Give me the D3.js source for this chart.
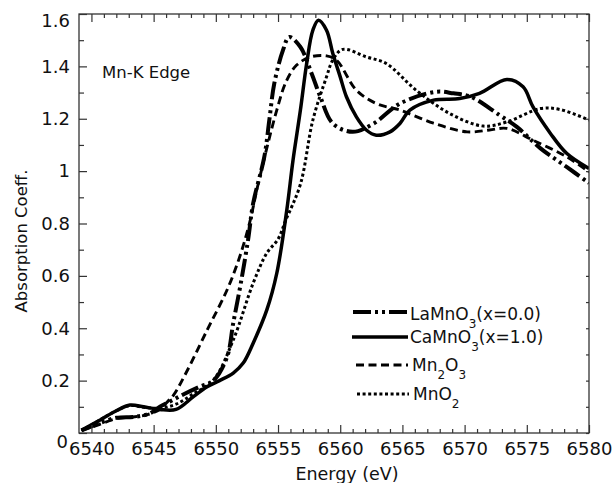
<!DOCTYPE html>
<html>
<head>
<meta charset="utf-8">
<script src="https://cdn.jsdelivr.net/npm/d3@7/dist/d3.min.js"></script>
<style>
  html, body { margin: 0; padding: 0; background: #fff; }
  svg { display: block; }
  text { font-family: "DejaVu Sans", sans-serif; fill: #111; }
</style>
</head>
<body>
<svg id="chart" width="613" height="483"></svg>
<script>
// ---- data ----
const xTicks = [6540, 6545, 6550, 6555, 6560, 6565, 6570, 6575, 6580];
const yTicks = [0, 0.2, 0.4, 0.6, 0.8, 1, 1.2, 1.4, 1.6];
const yTickLabels = ["0", "0.2", "0.4", "0.6", "0.8", "1", "1.2", "1.4", "1.6"];

const laE = [6539.2, 6540.5, 6542, 6543.5, 6544.7, 6545.5, 6546.5, 6547.5, 6548.7, 6549.8, 6550.9, 6551.4, 6552.0, 6552.6, 6553.0, 6553.9, 6554.3, 6554.7, 6555.4, 6555.9, 6556.8, 6557.7, 6558.4, 6559.4, 6561.0, 6562.7, 6564.8, 6567.7, 6569.1, 6570.5, 6572.8, 6574.2, 6576.1, 6578.2, 6580];
const laV = [0.01, 0.035, 0.058, 0.062, 0.075, 0.10, 0.125, 0.15, 0.177, 0.20, 0.29, 0.42, 0.57, 0.74, 0.877, 1.055, 1.195, 1.335, 1.462, 1.512, 1.474, 1.373, 1.284, 1.182, 1.15, 1.182, 1.258, 1.303, 1.297, 1.284, 1.214, 1.169, 1.087, 1.016, 0.955];

const caE = [6539.2, 6540.7, 6542.0, 6543.1, 6544.2, 6545.5, 6546.8, 6548.2, 6549.3, 6550.3, 6551.4, 6552.2, 6553.0, 6554.1, 6554.9, 6555.7, 6556.2, 6556.8, 6557.3, 6557.8, 6558.25, 6558.9, 6559.4, 6560.0, 6560.5, 6561.3, 6562.1, 6562.9, 6564.0, 6564.8, 6565.6, 6567.5, 6569.6, 6571.2, 6573.4, 6574.7, 6575.5, 6576.9, 6578.2, 6580];
const caV = [0.01, 0.05, 0.085, 0.107, 0.10, 0.09, 0.09, 0.139, 0.177, 0.20, 0.229, 0.267, 0.343, 0.47, 0.61, 0.85, 1.04, 1.233, 1.41, 1.538, 1.576, 1.538, 1.45, 1.36, 1.284, 1.207, 1.157, 1.137, 1.15, 1.182, 1.233, 1.271, 1.277, 1.297, 1.35, 1.322, 1.245, 1.144, 1.068, 1.01];

const mn2E = [6539.2, 6540.5, 6542, 6543.5, 6544.5, 6545.5, 6546.0, 6546.6, 6547.6, 6549.3, 6550.9, 6551.9, 6552.7, 6553.4, 6554.9, 6555.7, 6556.5, 6557.6, 6558.9, 6559.7, 6561.3, 6562.9, 6564.8, 6567.5, 6570.2, 6572.0, 6573.4, 6575.5, 6578.2, 6580];
const mn2V = [0.01, 0.03, 0.055, 0.062, 0.07, 0.09, 0.114, 0.145, 0.229, 0.393, 0.546, 0.67, 0.80, 0.95, 1.233, 1.347, 1.405, 1.436, 1.44, 1.424, 1.309, 1.258, 1.233, 1.183, 1.15, 1.157, 1.163, 1.118, 1.055, 0.997];

const mno2E = [6539.2, 6540.7, 6542, 6543.1, 6544.2, 6545.5, 6546.8, 6548.2, 6549.8, 6551.4, 6553.0, 6554.1, 6555.0, 6555.6, 6556.8, 6557.8, 6558.9, 6559.4, 6560.2, 6562.1, 6563.7, 6566.1, 6568.8, 6571.5, 6573.4, 6576.1, 6577.7, 6580];
const mno2V = [0.01, 0.05, 0.085, 0.105, 0.098, 0.095, 0.11, 0.15, 0.202, 0.355, 0.572, 0.687, 0.74, 0.81, 0.95, 1.195, 1.36, 1.424, 1.465, 1.436, 1.411, 1.309, 1.22, 1.172, 1.188, 1.239, 1.235, 1.195];

const seriesNames = ["LaMnO3(x=0.0)", "CaMnO3(x=1.0)", "Mn2O3", "MnO2"];

// ---- chart ----
const svg = d3.select("#chart");
const x = d3.scaleLinear().domain([6539, 6580]).range([79, 589]);
const y = d3.scaleLinear().domain([0, 1.6]).range([433, 14]);

const styles = [
  { w: 4, dash: "18,4,3,4,3,4" },
  { w: 3.5, dash: null },
  { w: 2.9, dash: "8,4.5" },
  { w: 3, dash: "3,2.6" }
];
const series = [
  { name: seriesNames[0], E: laE, V: laV },
  { name: seriesNames[1], E: caE, V: caV },
  { name: seriesNames[2], E: mn2E, V: mn2V },
  { name: seriesNames[3], E: mno2E, V: mno2V }
];

const line = d3.line()
  .x(d => x(d[0])).y(d => y(d[1]))
  .curve(d3.curveCatmullRom.alpha(0.5));

svg.append("clipPath").attr("id", "clip")
  .append("rect").attr("x", 79).attr("y", 14).attr("width", 510).attr("height", 419);

const gLines = svg.append("g").attr("clip-path", "url(#clip)");
series.forEach((s, i) => {
  gLines.append("path")
    .datum(s.E.map((e, k) => [e, s.V[k]]))
    .attr("d", line)
    .attr("fill", "none")
    .attr("stroke", "#000")
    .attr("stroke-width", styles[i].w)
    .attr("stroke-linejoin", "round")
    .attr("stroke-dasharray", styles[i].dash);
});

// frame
svg.append("rect").attr("x", 79).attr("y", 14).attr("width", 510).attr("height", 419)
  .attr("fill", "none").attr("stroke", "#333").attr("stroke-width", 1.3);

const xMinor = d3.range(6540, 6581, 1).filter(v => v % 5 !== 0);
const yMinor = d3.range(1, 16, 2).map(v => v / 10);

function styleAxis(g) {
  g.select(".domain").remove();
  g.selectAll("line").attr("stroke", "#333").attr("stroke-width", 1.2);
  g.selectAll("text").style("font-family", "DejaVu Sans, sans-serif").attr("fill", "#111");
}

// bottom
svg.append("g").attr("transform", "translate(0,433)")
  .call(d3.axisBottom(x).tickValues(xTicks).tickFormat(d3.format("d")).tickSizeInner(-8).tickSizeOuter(0).tickPadding(9))
  .call(styleAxis)
  .call(g => g.selectAll("text").style("font-size", "18px"));
svg.append("g").attr("transform", "translate(0,433)")
  .call(d3.axisBottom(x).tickValues(xMinor).tickFormat("").tickSizeInner(-4).tickSizeOuter(0))
  .call(styleAxis);
// top
svg.append("g").attr("transform", "translate(0,14)")
  .call(d3.axisTop(x).tickValues(xTicks).tickFormat("").tickSizeInner(-8).tickSizeOuter(0))
  .call(styleAxis);
svg.append("g").attr("transform", "translate(0,14)")
  .call(d3.axisTop(x).tickValues(xMinor).tickFormat("").tickSizeInner(-4).tickSizeOuter(0))
  .call(styleAxis);
// left
svg.append("g").attr("transform", "translate(79,0)")
  .call(d3.axisLeft(y).tickValues(yTicks).tickFormat((d, i) => yTickLabels[i]).tickSizeInner(-8).tickSizeOuter(0).tickPadding(9))
  .call(styleAxis)
  .call(g => {
    g.selectAll("text").style("font-size", "18px");
    g.selectAll(".tick").filter(d => d === 1.6).select("text").attr("dy", "0.68em");
    g.selectAll(".tick").filter(d => d === 0).select("text").attr("dy", "0.78em").attr("x", -11);
  });
svg.append("g").attr("transform", "translate(79,0)")
  .call(d3.axisLeft(y).tickValues(yMinor).tickFormat("").tickSizeInner(-5).tickSizeOuter(0))
  .call(styleAxis);
// right
svg.append("g").attr("transform", "translate(589,0)")
  .call(d3.axisRight(y).tickValues(yTicks.concat(yMinor)).tickFormat("").tickSizeInner(-3).tickSizeOuter(0))
  .call(styleAxis);

// axis titles
svg.append("text").attr("x", 347).attr("y", 480).attr("text-anchor", "middle")
  .style("font-size", "17.5px").text("Energy (eV)");
svg.append("text").attr("transform", "translate(27,241) rotate(-90)").attr("text-anchor", "middle")
  .style("font-size", "16.5px").text("Absorption Coeff.");

// annotation
svg.append("text").attr("x", 102).attr("y", 78).style("font-size", "16.5px").text("Mn-K Edge");

// legend
const legendRows = [
  { x1: 353, x2: 408, ly: 312, tx: 410, ty: 320, parts: [["LaMnO", 0], ["3", 1], ["(x=0.0)", 0]] },
  { x1: 352, x2: 408, ly: 337, tx: 410, ty: 343, parts: [["CaMnO", 0], ["3", 1], ["(x=1.0)", 0]] },
  { x1: 356, x2: 408, ly: 365, tx: 412, ty: 371, parts: [["Mn", 0], ["2", 1], ["O", 0], ["3", 1]] },
  { x1: 357, x2: 409, ly: 394, tx: 413, ty: 400, parts: [["MnO", 0], ["2", 1]] }
];
const gLeg = svg.append("g");
legendRows.forEach((r, i) => {
  gLeg.append("line").attr("x1", r.x1).attr("x2", r.x2).attr("y1", r.ly).attr("y2", r.ly)
    .attr("stroke", "#000").attr("stroke-width", styles[i].w)
    .attr("stroke-dasharray", styles[i].dash);
  const t = gLeg.append("text").attr("x", r.tx).attr("y", r.ty).style("font-size", "17px");
  let low = false;
  r.parts.forEach(([s, sub]) => {
    const ts = t.append("tspan").text(s);
    if (sub && !low) { ts.attr("dy", 8).style("font-size", "12px"); low = true; }
    else if (sub && low) { ts.style("font-size", "12px"); }
    else if (!sub && low) { ts.attr("dy", -8); low = false; }
  });
});
</script>
</body>
</html>
